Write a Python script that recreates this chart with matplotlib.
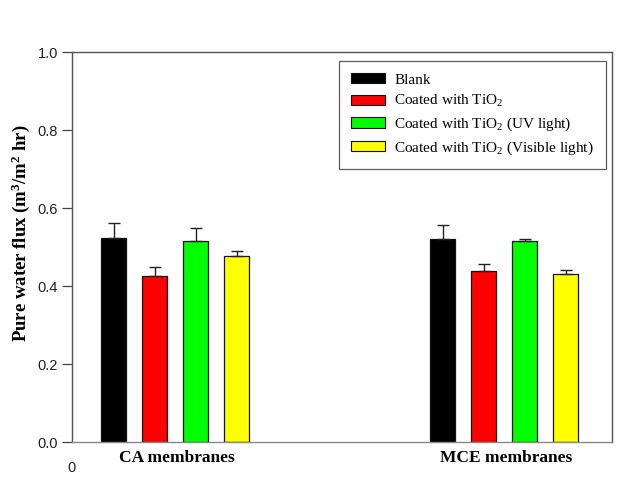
import matplotlib
matplotlib.use("Agg")
import matplotlib.pyplot as plt
import numpy as np

groups = ["CA membranes", "MCE membranes"]
series = ["Blank", r"Coated with TiO$_2$", r"Coated with TiO$_2$ (UV light)",
          r"Coated with TiO$_2$ (Visible light)"]
colors = ["#000000", "#ff0000", "#00ff00", "#ffff00"]
values = {
    "Blank": [0.524, 0.521],
    "TiO2": [0.426, 0.438],
    "UV": [0.515, 0.515],
    "Vis": [0.476, 0.431],
}
errors = {
    "Blank": [0.038, 0.036],
    "TiO2": [0.022, 0.018],
    "UV": [0.033, 0.005],
    "Vis": [0.014, 0.009],
}
keys = ["Blank", "TiO2", "UV", "Vis"]
yticks = [0.0, 0.2, 0.4, 0.6, 0.8, 1.0]

plt.rcParams['font.family'] = ['Liberation Serif', 'DejaVu Serif']
plt.rcParams['mathtext.fontset'] = 'custom'
plt.rcParams['mathtext.rm'] = 'Liberation Serif'
plt.rcParams['mathtext.it'] = 'Liberation Serif:italic'
plt.rcParams['mathtext.bf'] = 'Liberation Serif:bold'

fig = plt.figure(figsize=(6.36, 4.92), dpi=100)
ax = fig.add_axes([72/636, 50/492, 540/636, 390/492])

centers = np.array([2.52, 10.54])
width = 0.61
offsets = np.array([-1.5, -0.5, 0.5, 1.5])
for k, off, c, lab in zip(keys, offsets, colors, series):
    v = np.array(values[k]); e = np.array(errors[k])
    ax.bar(centers + off, v, width, color=c, edgecolor='#111111', linewidth=0.9,
           label=lab, zorder=2)
    ax.errorbar(centers + off, v, yerr=[np.zeros_like(e), e], fmt='none',
                ecolor='#222222', elinewidth=1.0, capsize=4.3, capthick=1.0, zorder=3)

ax.set_xlim(0, 540/41)
ax.set_ylim(0, 1.0)
ax.set_yticks(yticks)
ax.set_yticklabels([f"{t:.1f}" for t in yticks], family='Liberation Sans',
                   fontsize=10.5, color='#222222')
ax.tick_params(axis='y', direction='out', length=7, width=0.9, colors='#444444',
               labelcolor='#222222', pad=3)
ax.set_xticks([0])
ax.set_xticklabels(['0'], family='Liberation Sans', fontsize=10.5, color='#222222')
ax.tick_params(axis='x', length=0, pad=14)

for s in ['left', 'top', 'right']:
    ax.spines[s].set_color('#555555')
    ax.spines[s].set_linewidth(1.0)
ax.spines['bottom'].set_color('#888888')
ax.spines['bottom'].set_linewidth(1.0)

for c, g in zip(centers, groups):
    ax.text(c + 0.05, -0.04, g, ha='center', va='center', fontsize=12.5,
            fontweight='bold', transform=ax.transData)

ax.set_ylabel(r"Pure water flux (m$^\mathbf{3}$/m$^\mathbf{2}$ hr)", fontsize=13.5,
              fontweight='bold')
ax.yaxis.set_label_coords(-0.074, 0.535)

leg = ax.legend(loc='upper right', bbox_to_anchor=(534/540, 381/390),
                borderaxespad=0, fontsize=11, frameon=True, fancybox=False,
                edgecolor='#333333', handlelength=2.2, handleheight=0.65,
                labelspacing=0.42, borderpad=0.8, handletextpad=0.6)
leg.get_frame().set_linewidth(0.9)
for p in leg.get_patches():
    p.set_linewidth(0.8)

fig.savefig("out.png", dpi=100)
